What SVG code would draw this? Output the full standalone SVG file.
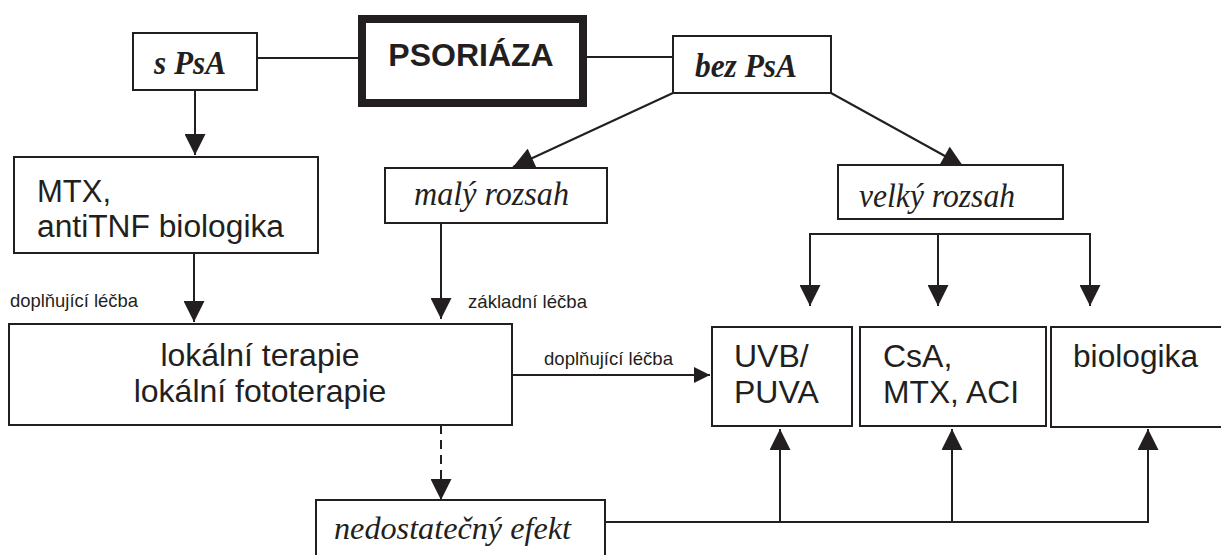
<svg xmlns="http://www.w3.org/2000/svg" width="1221" height="555" viewBox="0 0 1221 555">
<style>
.box{fill:#fff;stroke:#231f20;stroke-width:2}
.ln{fill:none;stroke:#231f20;stroke-width:2}
.ar{fill:none;stroke:#231f20;stroke-width:2;marker-end:url(#ah)}
.ar2{fill:none;stroke:#231f20;stroke-width:2;marker-end:url(#ah2)}
.sans{font-family:"Liberation Sans",Arial,sans-serif;fill:#231f20}
.ser{font-family:"Liberation Serif","Times New Roman",serif;fill:#231f20;font-style:italic}
.big{font-size:32px}
.small{font-size:18.5px}
</style>
<defs>
<marker id="ah" viewBox="0 0 10 10" refX="10" refY="5" markerWidth="22" markerHeight="21" markerUnits="userSpaceOnUse" orient="auto">
<path d="M0,0 L10,5 L0,10 z" fill="#231f20"/>
</marker>
<marker id="ah2" viewBox="0 0 10 10" refX="10" refY="5" markerWidth="17" markerHeight="16" markerUnits="userSpaceOnUse" orient="auto">
<path d="M0,0 L10,5 L0,10 z" fill="#231f20"/>
</marker>
</defs>
<rect width="1221" height="555" fill="#fff"/>
<g id="connectors">
<line class="ln" x1="257" y1="58" x2="362" y2="58"/>
<line class="ln" x1="583" y1="57" x2="673" y2="57"/>
<line class="ar" x1="195" y1="90" x2="195" y2="155"/>
<line class="ar" x1="673" y1="93" x2="513" y2="167"/>
<line class="ar" x1="831" y1="93" x2="963" y2="166"/>
<line class="ar" x1="441" y1="223" x2="441" y2="319"/>
<line class="ar" x1="194" y1="253" x2="194" y2="322"/>
<polyline class="ln" points="810,290 810,234 1090,234 1090,290"/>
<line class="ar" x1="810" y1="280" x2="810" y2="306"/>
<line class="ar" x1="938" y1="234" x2="938" y2="306"/>
<line class="ar" x1="1090" y1="280" x2="1090" y2="306"/>
<line class="ar2" x1="512" y1="375" x2="710" y2="375"/>
<line class="ln" x1="441" y1="425" x2="441" y2="480" stroke-dasharray="9,6"/>
<line class="ar" x1="441" y1="476" x2="441" y2="500"/>
<polyline class="ln" points="605,522 1148,522 1148,445"/>
<line class="ar" x1="780" y1="522" x2="780" y2="429"/>
<line class="ar" x1="952" y1="522" x2="952" y2="429"/>
<line class="ar" x1="1148" y1="460" x2="1148" y2="429"/>
<text class="sans small" x="10" y="307" textLength="128" lengthAdjust="spacingAndGlyphs">doplňující léčba</text>
<text class="sans small" x="468" y="308" textLength="119" lengthAdjust="spacingAndGlyphs">základní léčba</text>
<text class="sans small" x="544" y="365" textLength="129" lengthAdjust="spacingAndGlyphs">doplňující léčba</text>
</g>
<g id="n-psoriaza">
<rect x="362" y="19" width="221" height="84" fill="#fff" stroke="#231f20" stroke-width="8"/>
<text class="sans" x="471" y="66" font-size="32" font-weight="bold" text-anchor="middle">PSORIÁZA</text>
</g>
<g id="n-spsa">
<rect class="box" x="133" y="33" width="124" height="57"/>
<text class="ser" x="154" y="74" font-size="33" font-weight="bold" textLength="72" lengthAdjust="spacingAndGlyphs">s PsA</text>
</g>
<g id="n-bezpsa">
<rect class="box" x="673" y="36" width="158" height="57"/>
<text class="ser" x="695" y="77" font-size="33" font-weight="bold" textLength="102" lengthAdjust="spacingAndGlyphs">bez PsA</text>
</g>
<g id="n-maly">
<rect class="box" x="385" y="168" width="222" height="55"/>
<text class="ser" x="414" y="205" font-size="33" textLength="155" lengthAdjust="spacingAndGlyphs">malý rozsah</text>
</g>
<g id="n-velky">
<rect class="box" x="838" y="165" width="225" height="54"/>
<text class="ser" x="859" y="207" font-size="33" textLength="156" lengthAdjust="spacingAndGlyphs">velký rozsah</text>
</g>
<g id="n-mtx">
<rect class="box" x="14" y="157" width="304" height="96"/>
<text class="sans" font-size="31" x="37" y="202">MTX,</text>
<text class="sans" font-size="31" x="37" y="237" textLength="247" lengthAdjust="spacingAndGlyphs">antiTNF biologika</text>
</g>
<g id="n-lokalni">
<rect class="box" x="9" y="324" width="503" height="101"/>
<text class="sans big" x="260" y="366" text-anchor="middle">lokální terapie</text>
<text class="sans big" x="260" y="402" text-anchor="middle">lokální fototerapie</text>
</g>
<g id="n-uvb">
<rect class="box" x="712" y="327" width="140" height="99"/>
<text class="sans big" x="734" y="367">UVB/</text>
<text class="sans big" x="734" y="403">PUVA</text>
</g>
<g id="n-csa">
<rect class="box" x="860" y="327" width="186" height="99"/>
<text class="sans big" x="883" y="367">CsA,</text>
<text class="sans big" x="883" y="403" textLength="136" lengthAdjust="spacingAndGlyphs">MTX, ACI</text>
</g>
<g id="n-bio">
<rect class="box" x="1051" y="327" width="175" height="100"/>
<text class="sans big" x="1073" y="367" textLength="125" lengthAdjust="spacingAndGlyphs">biologika</text>
</g>
<g id="n-nedost">
<rect class="box" x="316" y="500" width="289" height="60"/>
<text class="ser" x="334" y="539" font-size="32" textLength="237" lengthAdjust="spacingAndGlyphs">nedostatečný efekt</text>
</g>
</svg>
